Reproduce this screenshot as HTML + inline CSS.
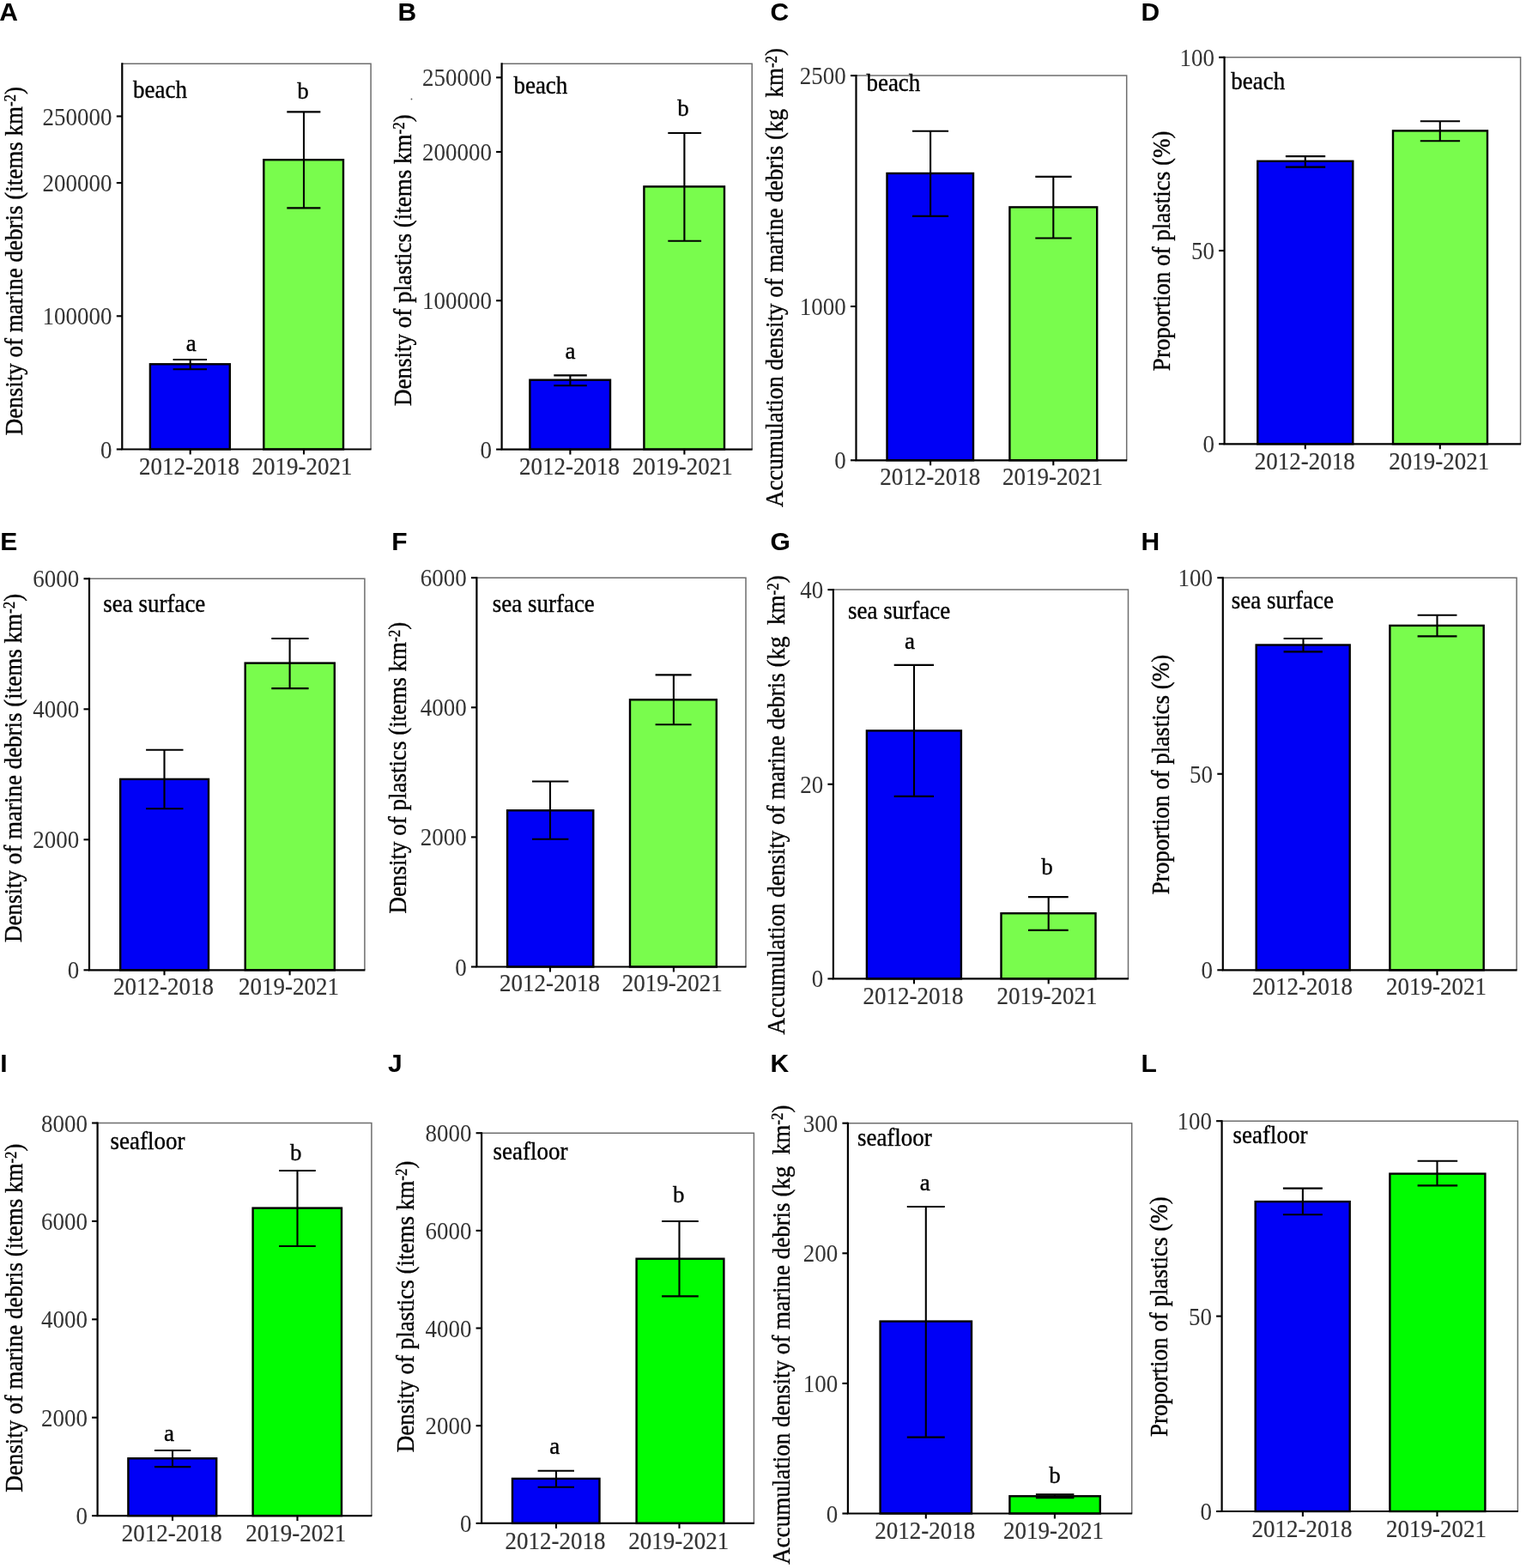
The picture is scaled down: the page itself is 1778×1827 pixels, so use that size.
<!DOCTYPE html>
<html><head><meta charset="utf-8"><title>Marine debris and plastics: beach, sea surface and seafloor (2012-2018 vs 2019-2021)</title>
<style>
html,body{margin:0;padding:0;background:#fff;}
svg{display:block;}
text{font-family:"Liberation Serif","Times New Roman",serif;}
.fr{fill:none;stroke:#6e6e6e;stroke-width:1.5;}
.ax{fill:none;stroke:#000;stroke-width:2.2;}
.ln{fill:none;stroke:#000;stroke-width:2.1;}
.bar{stroke:#000;stroke-width:2.4;}
.tk{font-size:27px;fill:#333;text-anchor:end;}
.xl{font-size:27px;fill:#333;stroke:#333;stroke-width:0.2;text-anchor:middle;}
.sg{font-size:27px;fill:#000;stroke:#000;stroke-width:0.35;text-anchor:middle;}
.lc{font-size:27px;fill:#000;stroke:#000;stroke-width:0.35;}
.yl{font-size:27px;fill:#000;stroke:#000;stroke-width:0.35;text-anchor:middle;}
.sup{font-size:17px;}
.pl{font-family:"Liberation Sans",Arial,sans-serif;font-weight:bold;font-size:30px;fill:#000;}
</style></head>
<body><svg xmlns="http://www.w3.org/2000/svg" width="1778" height="1827" viewBox="0 0 1778 1827">
<rect width="1778" height="1827" fill="#fff"/>
<g><path d="M142.3 74.3H432.1V523.5" class="fr"/><rect x="174.9" y="424.3" width="92.9" height="99.2" fill="#0000f6" class="bar"/><rect x="307.3" y="186.2" width="92.7" height="337.3" fill="#79fc4d" class="bar"/><path d="M221.7 419V430.3M201.6 419H241M201.6 430.3H241" class="ln"/><path d="M354 130.4V242.4M334.3 130.4H373.4M334.3 242.4H373.4" class="ln"/><path d="M142.3 73.3V523.5H432.6" class="ax"/><path d="M135.8 523.5H142.3" class="ln"/><text transform="translate(130.6 533.5) scale(1 1.055)" class="tk">0</text><path d="M135.8 368.3H142.3" class="ln"/><text transform="translate(130.6 378.3) scale(1 1.055)" class="tk">100000</text><path d="M135.8 213.1H142.3" class="ln"/><text transform="translate(130.6 223.1) scale(1 1.055)" class="tk">200000</text><path d="M135.8 135.5H142.3" class="ln"/><text transform="translate(130.6 145.5) scale(1 1.055)" class="tk">250000</text><path d="M221.7 523.5V529.5" class="ln"/><text transform="translate(220.4 552.5) scale(1 1.055)" class="xl">2012-2018</text><path d="M354 523.5V529.5" class="ln"/><text transform="translate(352 552.5) scale(1 1.055)" class="xl">2019-2021</text><text x="222.7" y="408.9" class="sg">a</text><text x="353" y="114.6" class="sg">b</text><text transform="translate(155 114) scale(1 1.055)" class="lc">beach</text><text transform="translate(25.65 304.1) rotate(-90) scale(1 1.055)" class="yl">Density of marine debris (items km<tspan class="sup" dy="-7">-2</tspan><tspan dy="7">)</tspan></text><text x="-0.8" y="24" class="pl">A</text></g>
<g><path d="M584.6 74.3H876.2V523.6" class="fr"/><rect x="617.4" y="442.7" width="93.6" height="80.9" fill="#0000f6" class="bar"/><rect x="750.4" y="217.4" width="93.6" height="306.2" fill="#79fc4d" class="bar"/><path d="M664.4 437.4V449.3M645.3 437.4H683.8M645.3 449.3H683.8" class="ln"/><path d="M797.4 155V280.8M778.3 155H817.1M778.3 280.8H817.1" class="ln"/><path d="M584.6 73.3V523.6H876.7" class="ax"/><path d="M578.1 523.6H584.6" class="ln"/><text transform="translate(572.9 533.6) scale(1 1.055)" class="tk">0</text><path d="M578.1 350.28H584.6" class="ln"/><text transform="translate(572.9 360.28) scale(1 1.055)" class="tk">100000</text><path d="M578.1 176.96H584.6" class="ln"/><text transform="translate(572.9 186.96) scale(1 1.055)" class="tk">200000</text><path d="M578.1 90.3H584.6" class="ln"/><text transform="translate(572.9 100.3) scale(1 1.055)" class="tk">250000</text><path d="M664.4 523.6V529.6" class="ln"/><text transform="translate(663.4 553.3) scale(1 1.055)" class="xl">2012-2018</text><path d="M797.4 523.6V529.6" class="ln"/><text transform="translate(795.2 553.3) scale(1 1.055)" class="xl">2019-2021</text><text x="664.4" y="417.7" class="sg">a</text><text x="796" y="134.8" class="sg">b</text><text transform="translate(598.4 109.3) scale(1 1.055)" class="lc">beach</text><text transform="translate(478.85 303.1) rotate(-90) scale(1 1.055)" class="yl">Density of plastics (items km<tspan class="sup" dy="-7">-2</tspan><tspan dy="7">)</tspan></text><text x="463.4" y="24" class="pl">B</text></g>
<g><path d="M997.5 88.1H1312.7V536.3" class="fr"/><rect x="1033.5" y="202" width="100.5" height="334.3" fill="#0000f6" class="bar"/><rect x="1176.4" y="241.4" width="101.8" height="294.9" fill="#79fc4d" class="bar"/><path d="M1084.1 152.7V251.9M1063 152.7H1105.1M1063 251.9H1105.1" class="ln"/><path d="M1227.3 205.9V277.5M1206.3 205.9H1248.6M1206.3 277.5H1248.6" class="ln"/><path d="M997.5 87.1V536.3H1313.2" class="ax"/><path d="M991 536.3H997.5" class="ln"/><text transform="translate(985.8 546.3) scale(1 1.055)" class="tk">0</text><path d="M991 357.02H997.5" class="ln"/><text transform="translate(985.8 367.02) scale(1 1.055)" class="tk">1000</text><path d="M991 88.1H997.5" class="ln"/><text transform="translate(985.8 98.1) scale(1 1.055)" class="tk">2500</text><path d="M1084.1 536.3V542.3" class="ln"/><text transform="translate(1083.8 564.9) scale(1 1.055)" class="xl">2012-2018</text><path d="M1227.3 536.3V542.3" class="ln"/><text transform="translate(1226.6 564.9) scale(1 1.055)" class="xl">2019-2021</text><text transform="translate(1009.4 106.2) scale(1 1.055)" class="lc">beach</text><text transform="translate(912.25 323.5) rotate(-90) scale(1 1.055)" class="yl">Accumulation density of marine debris (kg  km<tspan class="sup" dy="-7">-2</tspan><tspan dy="7">)</tspan></text><text x="897.4" y="24" class="pl">C</text></g>
<g><path d="M1426.6 66.8H1771.6V517.3" class="fr"/><rect x="1465.3" y="187.8" width="111" height="329.5" fill="#0000f6" class="bar"/><rect x="1623" y="152.4" width="110" height="364.9" fill="#79fc4d" class="bar"/><path d="M1520.8 182.1V194.6M1497.9 182.1H1544.2M1497.9 194.6H1544.2" class="ln"/><path d="M1677.8 141.2V164.2M1654.8 141.2H1701.1M1654.8 164.2H1701.1" class="ln"/><path d="M1426.6 65.8V517.3H1772.1" class="ax"/><path d="M1420.1 517.3H1426.6" class="ln"/><text transform="translate(1414.9 527.3) scale(1 1.055)" class="tk">0</text><path d="M1420.1 292.05H1426.6" class="ln"/><text transform="translate(1414.9 302.05) scale(1 1.055)" class="tk">50</text><path d="M1420.1 66.8H1426.6" class="ln"/><text transform="translate(1414.9 76.8) scale(1 1.055)" class="tk">100</text><path d="M1520.8 517.3V523.3" class="ln"/><text transform="translate(1520.2 546.8) scale(1 1.055)" class="xl">2012-2018</text><path d="M1677.8 517.3V523.3" class="ln"/><text transform="translate(1676.8 546.8) scale(1 1.055)" class="xl">2019-2021</text><text transform="translate(1434.3 104.1) scale(1 1.055)" class="lc">beach</text><text transform="translate(1363.35 292.3) rotate(-90) scale(1 1.055)" class="yl">Proportion of plastics (%)</text><text x="1329.4" y="24" class="pl">D</text></g>
<g><path d="M104 674.3H424.9V1130.3" class="fr"/><rect x="140.2" y="907.9" width="102.8" height="222.4" fill="#0000f6" class="bar"/><rect x="285.7" y="772.6" width="104.1" height="357.7" fill="#79fc4d" class="bar"/><path d="M191.5 873.7V942.3M170.1 873.7H213.5M170.1 942.3H213.5" class="ln"/><path d="M337.6 744V802.1M316.3 744H359.6M316.3 802.1H359.6" class="ln"/><path d="M104 673.3V1130.3H425.4" class="ax"/><path d="M97.5 1130.3H104" class="ln"/><text transform="translate(92.3 1140.3) scale(1 1.055)" class="tk">0</text><path d="M97.5 978.3H104" class="ln"/><text transform="translate(92.3 988.3) scale(1 1.055)" class="tk">2000</text><path d="M97.5 826.3H104" class="ln"/><text transform="translate(92.3 836.3) scale(1 1.055)" class="tk">4000</text><path d="M97.5 674.3H104" class="ln"/><text transform="translate(92.3 684.3) scale(1 1.055)" class="tk">6000</text><path d="M191.5 1130.3V1136.3" class="ln"/><text transform="translate(190.5 1159.1) scale(1 1.055)" class="xl">2012-2018</text><path d="M337.6 1130.3V1136.3" class="ln"/><text transform="translate(336.6 1159.1) scale(1 1.055)" class="xl">2019-2021</text><text transform="translate(120.2 712.7) scale(1 1.055)" class="lc">sea surface</text><text transform="translate(24.75 894.9) rotate(-90) scale(1 1.055)" class="yl">Density of marine debris (items km<tspan class="sup" dy="-7">-2</tspan><tspan dy="7">)</tspan></text><text x="0.2" y="640.7" class="pl">E</text></g>
<g><path d="M555.4 673.2H869V1126.5" class="fr"/><rect x="591.1" y="944.3" width="100.2" height="182.2" fill="#0000f6" class="bar"/><rect x="734" y="815.3" width="100.8" height="311.2" fill="#79fc4d" class="bar"/><path d="M641 910.5V977.8M620 910.5H662.4M620 977.8H662.4" class="ln"/><path d="M784.9 786.4V844.2M763.6 786.4H805.6M763.6 844.2H805.6" class="ln"/><path d="M555.4 672.2V1126.5H869.5" class="ax"/><path d="M548.9 1126.5H555.4" class="ln"/><text transform="translate(543.7 1136.5) scale(1 1.055)" class="tk">0</text><path d="M548.9 975.4H555.4" class="ln"/><text transform="translate(543.7 985.4) scale(1 1.055)" class="tk">2000</text><path d="M548.9 824.3H555.4" class="ln"/><text transform="translate(543.7 834.3) scale(1 1.055)" class="tk">4000</text><path d="M548.9 673.2H555.4" class="ln"/><text transform="translate(543.7 683.2) scale(1 1.055)" class="tk">6000</text><path d="M641 1126.5V1132.5" class="ln"/><text transform="translate(640.4 1155.2) scale(1 1.055)" class="xl">2012-2018</text><path d="M784.9 1126.5V1132.5" class="ln"/><text transform="translate(783.3 1155.2) scale(1 1.055)" class="xl">2019-2021</text><text transform="translate(573.7 712.7) scale(1 1.055)" class="lc">sea surface</text><text transform="translate(472.95 894.6) rotate(-90) scale(1 1.055)" class="yl">Density of plastics (items km<tspan class="sup" dy="-7">-2</tspan><tspan dy="7">)</tspan></text><text x="456.2" y="640.7" class="pl">F</text></g>
<g><path d="M970.9 687.1H1314.5V1140.4" class="fr"/><rect x="1009.9" y="851.4" width="110" height="289" fill="#0000f6" class="bar"/><rect x="1166.5" y="1064.2" width="110" height="76.2" fill="#79fc4d" class="bar"/><path d="M1065 774.9V927.9M1041.7 774.9H1088M1041.7 927.9H1088" class="ln"/><path d="M1221.7 1045.1V1083.9M1198 1045.1H1244.7M1198 1083.9H1244.7" class="ln"/><path d="M970.9 686.1V1140.4H1315" class="ax"/><path d="M964.4 1140.4H970.9" class="ln"/><text transform="translate(959.2 1150.4) scale(1 1.055)" class="tk">0</text><path d="M964.4 913.75H970.9" class="ln"/><text transform="translate(959.2 923.75) scale(1 1.055)" class="tk">20</text><path d="M964.4 687.1H970.9" class="ln"/><text transform="translate(959.2 697.1) scale(1 1.055)" class="tk">40</text><path d="M1065 1140.4V1146.4" class="ln"/><text transform="translate(1064 1170) scale(1 1.055)" class="xl">2012-2018</text><path d="M1221.7 1140.4V1146.4" class="ln"/><text transform="translate(1220 1170) scale(1 1.055)" class="xl">2019-2021</text><text x="1060.1" y="755.5" class="sg">a</text><text x="1220" y="1019" class="sg">b</text><text transform="translate(988 721) scale(1 1.055)" class="lc">sea surface</text><text transform="translate(914.05 937.9) rotate(-90) scale(1 1.055)" class="yl">Accumulation density of marine debris (kg  km<tspan class="sup" dy="-7">-2</tspan><tspan dy="7">)</tspan></text><text x="897.6" y="640.7" class="pl">G</text></g>
<g><path d="M1424.8 673.2H1767.1V1130.3" class="fr"/><rect x="1463.7" y="751.5" width="109" height="378.8" fill="#0000f6" class="bar"/><rect x="1619.4" y="728.9" width="109.3" height="401.4" fill="#79fc4d" class="bar"/><path d="M1518.5 744V759.4M1495.6 744H1540.9M1495.6 759.4H1540.9" class="ln"/><path d="M1674.5 716.7V741.4M1651.6 716.7H1697.5M1651.6 741.4H1697.5" class="ln"/><path d="M1424.8 672.2V1130.3H1767.6" class="ax"/><path d="M1418.3 1130.3H1424.8" class="ln"/><text transform="translate(1413.1 1140.3) scale(1 1.055)" class="tk">0</text><path d="M1418.3 901.75H1424.8" class="ln"/><text transform="translate(1413.1 911.75) scale(1 1.055)" class="tk">50</text><path d="M1418.3 673.2H1424.8" class="ln"/><text transform="translate(1413.1 683.2) scale(1 1.055)" class="tk">100</text><path d="M1518.5 1130.3V1136.3" class="ln"/><text transform="translate(1517.6 1159.1) scale(1 1.055)" class="xl">2012-2018</text><path d="M1674.5 1130.3V1136.3" class="ln"/><text transform="translate(1673.6 1159.1) scale(1 1.055)" class="xl">2019-2021</text><text transform="translate(1434.8 709) scale(1 1.055)" class="lc">sea surface</text><text transform="translate(1361.55 902.5) rotate(-90) scale(1 1.055)" class="yl">Proportion of plastics (%)</text><text x="1329.4" y="640.7" class="pl">H</text></g>
<g><path d="M113.6 1308.5H432.9V1766.1" class="fr"/><rect x="149.4" y="1699.3" width="102.8" height="66.8" fill="#0000f6" class="bar"/><rect x="294.6" y="1407.6" width="103.4" height="358.5" fill="#00fc00" class="bar"/><path d="M201 1690V1709.1M180 1690H222.3M180 1709.1H222.3" class="ln"/><path d="M346.5 1364V1452M325.1 1364H367.8M325.1 1452H367.8" class="ln"/><path d="M113.6 1307.5V1766.1H433.4" class="ax"/><path d="M107.1 1766.1H113.6" class="ln"/><text transform="translate(101.9 1776.1) scale(1 1.055)" class="tk">0</text><path d="M107.1 1651.7H113.6" class="ln"/><text transform="translate(101.9 1661.7) scale(1 1.055)" class="tk">2000</text><path d="M107.1 1537.3H113.6" class="ln"/><text transform="translate(101.9 1547.3) scale(1 1.055)" class="tk">4000</text><path d="M107.1 1422.9H113.6" class="ln"/><text transform="translate(101.9 1432.9) scale(1 1.055)" class="tk">6000</text><path d="M107.1 1308.5H113.6" class="ln"/><text transform="translate(101.9 1318.5) scale(1 1.055)" class="tk">8000</text><path d="M201 1766.1V1772.1" class="ln"/><text transform="translate(200.3 1795.8) scale(1 1.055)" class="xl">2012-2018</text><path d="M346.5 1766.1V1772.1" class="ln"/><text transform="translate(344.8 1795.8) scale(1 1.055)" class="xl">2019-2021</text><text x="197" y="1678.6" class="sg">a</text><text x="344.8" y="1351.8" class="sg">b</text><text transform="translate(128.5 1338.5) scale(1 1.055)" class="lc">seafloor</text><text transform="translate(26.2 1535.6) rotate(-90) scale(1 1.055)" class="yl">Density of marine debris (items km<tspan class="sup" dy="-7">-2</tspan><tspan dy="7">)</tspan></text><text x="0.2" y="1249" class="pl">I</text></g>
<g><path d="M561.1 1320.2H878.4V1774.9" class="fr"/><rect x="597" y="1722.9" width="101.5" height="52" fill="#0000f6" class="bar"/><rect x="741.6" y="1466.7" width="101.8" height="308.2" fill="#00fc00" class="bar"/><path d="M648 1713.7V1732.7M626.6 1713.7H669M626.6 1732.7H669" class="ln"/><path d="M791.5 1423V1510.4M771.1 1423H813.8M771.1 1510.4H813.8" class="ln"/><path d="M561.1 1319.2V1774.9H878.9" class="ax"/><path d="M554.6 1774.9H561.1" class="ln"/><text transform="translate(549.4 1784.9) scale(1 1.055)" class="tk">0</text><path d="M554.6 1661.23H561.1" class="ln"/><text transform="translate(549.4 1671.23) scale(1 1.055)" class="tk">2000</text><path d="M554.6 1547.55H561.1" class="ln"/><text transform="translate(549.4 1557.55) scale(1 1.055)" class="tk">4000</text><path d="M554.6 1433.88H561.1" class="ln"/><text transform="translate(549.4 1443.88) scale(1 1.055)" class="tk">6000</text><path d="M554.6 1320.2H561.1" class="ln"/><text transform="translate(549.4 1330.2) scale(1 1.055)" class="tk">8000</text><path d="M648 1774.9V1780.9" class="ln"/><text transform="translate(647 1804.8) scale(1 1.055)" class="xl">2012-2018</text><path d="M791.5 1774.9V1780.9" class="ln"/><text transform="translate(790.8 1804.8) scale(1 1.055)" class="xl">2019-2021</text><text x="646.3" y="1694" class="sg">a</text><text x="790.8" y="1401" class="sg">b</text><text transform="translate(574.5 1351.4) scale(1 1.055)" class="lc">seafloor</text><text transform="translate(481.75 1522.4) rotate(-90) scale(1 1.055)" class="yl">Density of plastics (items km<tspan class="sup" dy="-7">-2</tspan><tspan dy="7">)</tspan></text><text x="452" y="1249" class="pl">J</text></g>
<g><path d="M987.9 1308.7H1318.7V1763.5" class="fr"/><rect x="1025.6" y="1539.6" width="106.4" height="223.9" fill="#0000f6" class="bar"/><rect x="1176.4" y="1743.3" width="105.4" height="20.2" fill="#00fc00" class="bar"/><path d="M1078.8 1406V1674.6M1056.8 1406H1100.8M1056.8 1674.6H1100.8" class="ln"/><path d="M1228.9 1741.2V1745.1M1206.9 1741.2H1251.4M1206.9 1745.1H1251.4" class="ln"/><path d="M987.9 1307.7V1763.5H1319.2" class="ax"/><path d="M981.4 1763.5H987.9" class="ln"/><text transform="translate(976.2 1773.5) scale(1 1.055)" class="tk">0</text><path d="M981.4 1611.9H987.9" class="ln"/><text transform="translate(976.2 1621.9) scale(1 1.055)" class="tk">100</text><path d="M981.4 1460.3H987.9" class="ln"/><text transform="translate(976.2 1470.3) scale(1 1.055)" class="tk">200</text><path d="M981.4 1308.7H987.9" class="ln"/><text transform="translate(976.2 1318.7) scale(1 1.055)" class="tk">300</text><path d="M1078.8 1763.5V1769.5" class="ln"/><text transform="translate(1077.8 1793.3) scale(1 1.055)" class="xl">2012-2018</text><path d="M1228.9 1763.5V1769.5" class="ln"/><text transform="translate(1227.6 1793.3) scale(1 1.055)" class="xl">2019-2021</text><text x="1077.8" y="1387.3" class="sg">a</text><text x="1229" y="1728.1" class="sg">b</text><text transform="translate(998.9 1334.9) scale(1 1.055)" class="lc">seafloor</text><text transform="translate(919.55 1555.1) rotate(-90) scale(1 1.055)" class="yl">Accumulation density of marine debris (kg  km<tspan class="sup" dy="-7">-2</tspan><tspan dy="7">)</tspan></text><text x="897.4" y="1249" class="pl">K</text></g>
<g><path d="M1423.6 1306.2H1768.4V1761" class="fr"/><rect x="1462.7" y="1400.1" width="110" height="360.9" fill="#0000f6" class="bar"/><rect x="1619.4" y="1367.6" width="111" height="393.4" fill="#00fc00" class="bar"/><path d="M1517.9 1384.6V1415.2M1494.9 1384.6H1540.9M1494.9 1415.2H1540.9" class="ln"/><path d="M1674.5 1352.8V1381.4M1651.6 1352.8H1698.2M1651.6 1381.4H1698.2" class="ln"/><path d="M1423.6 1305.2V1761H1768.9" class="ax"/><path d="M1417.1 1761H1423.6" class="ln"/><text transform="translate(1411.9 1771) scale(1 1.055)" class="tk">0</text><path d="M1417.1 1533.6H1423.6" class="ln"/><text transform="translate(1411.9 1543.6) scale(1 1.055)" class="tk">50</text><path d="M1417.1 1306.2H1423.6" class="ln"/><text transform="translate(1411.9 1316.2) scale(1 1.055)" class="tk">100</text><path d="M1517.9 1761V1767" class="ln"/><text transform="translate(1516.9 1791.2) scale(1 1.055)" class="xl">2012-2018</text><path d="M1674.5 1761V1767" class="ln"/><text transform="translate(1673.6 1791.2) scale(1 1.055)" class="xl">2019-2021</text><text transform="translate(1436.6 1331.6) scale(1 1.055)" class="lc">seafloor</text><text transform="translate(1359.95 1534.2) rotate(-90) scale(1 1.055)" class="yl">Proportion of plastics (%)</text><text x="1329.4" y="1249" class="pl">L</text></g>
<circle cx="479.5" cy="115.5" r="0.9" fill="#555"/>
</svg></body></html>
